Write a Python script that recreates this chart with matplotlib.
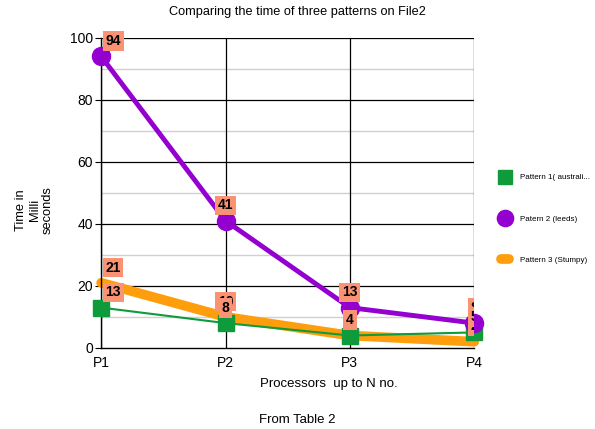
import numpy as np
import matplotlib
matplotlib.use("Agg")
import matplotlib.pyplot as plt
from matplotlib.transforms import Bbox, TransformedBbox

plt.rcParams['font.family'] = ['Liberation Sans', 'DejaVu Sans']

processors = ["P1", "P2", "P3", "P4"]
pattern1 = [13, 8, 4, 5]
pattern2 = [94, 41, 13, 8]
pattern3 = [21, 10, 4, 2]
names = ["Pattern 1( australi...", "Patern 2 (leeds)", "Pattern 3 (Stumpy)"]

x = np.arange(len(processors))

fig = plt.figure(figsize=(5.95, 4.29), dpi=100)
ax = fig.add_axes([0.170, 0.189, 0.627, 0.723])

# grid: light minor lines at odd tens, black major lines every 20
for v in range(10, 100, 20):
    ax.axhline(v, color="#d0d0d0", lw=1, zorder=0)
for v in range(20, 101, 20):
    ax.axhline(v, color="black", lw=0.9, zorder=0)
for xi in x:
    ax.axvline(xi, color="black", lw=0.9, zorder=0)

l3, = ax.plot(x, pattern3, color="#ff9e0c", lw=7, solid_capstyle="round",
              zorder=2, clip_on=False)
l1, = ax.plot(x, pattern1, color="#0f9a3c", lw=1.5, marker="s", ms=11,
              zorder=3, clip_on=False)
l2, = ax.plot(x, pattern2, color="#9400d0", lw=3.5, marker="o", ms=13,
              zorder=4, clip_on=False)

# value labels: first column pushed inside, last column cut at the right edge
clip = TransformedBbox(Bbox([[-1, -10], [3, 120]]), ax.transData)
box = dict(boxstyle="square,pad=0.2", fc="#fa9274", ec="none")
for series in (pattern3, pattern2, pattern1):
    for xi, v in zip(x, series):
        ha = "left" if xi == 0 else "center"
        dx = 3 if xi == 0 else 0
        t = ax.annotate(str(v), (xi, v), xytext=(dx, 11), textcoords="offset points",
                        ha=ha, va="center", fontsize=10, fontweight="bold",
                        bbox=box, zorder=6, annotation_clip=False)
        t.set_clip_box(clip)
        t.set_clip_on(True)

ax.set_xlim(0, 3)
ax.set_ylim(0, 100)
ax.set_xticks(x)
ax.set_xticklabels(processors)
ax.set_yticks(range(0, 101, 20))
ax.tick_params(axis="y", length=4, labelsize=10, pad=2)
ax.tick_params(axis="x", length=0, labelsize=10, pad=6)
for s in ("top", "right"):
    ax.spines[s].set_visible(False)
ax.spines["left"].set_linewidth(1)
ax.spines["bottom"].set_linewidth(1)

fig.text(0.5, 0.972, "Comparing the time of three patterns on File2",
         ha="center", va="center", fontsize=9.2)
fig.text(0.553, 0.105, "Processors  up to N no.", ha="center", va="center",
         fontsize=9.5)
fig.text(0.5, 0.021, "From Table 2", ha="center", va="center", fontsize=9.5)
fig.text(0.058, 0.51, "Time in\nMilli\nseconds", rotation=90,
         ha="center", va="center", fontsize=9.3, linespacing=1.15)

leg = ax.legend([l1, l2, l3], names, loc="upper left",
                bbox_to_anchor=(0.83, 0.612), bbox_transform=fig.transFigure,
                frameon=False, fontsize=5.8, labelspacing=4.2,
                handlelength=1.0, handletextpad=1.4, markerscale=0.9)

fig.savefig("out.png", dpi=100)
